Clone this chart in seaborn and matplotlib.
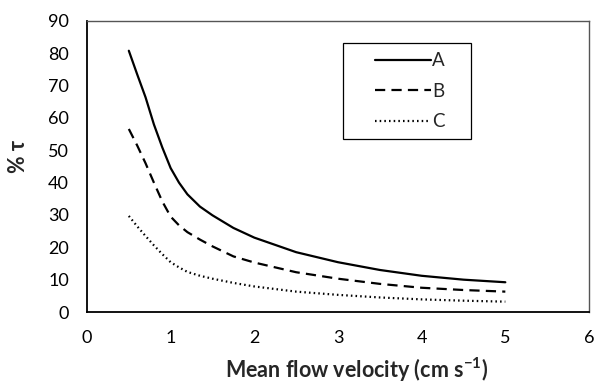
import matplotlib
matplotlib.use("Agg")
import matplotlib.pyplot as plt
from matplotlib.patches import Rectangle
import seaborn as sns
import pandas as pd

# Mean flow velocity (cm s^-1) and % tau for the three cases
velocity = [0.5, 0.6, 0.7, 0.8, 0.9, 1.0, 1.1, 1.2, 1.35, 1.5, 1.75,
            2.0, 2.5, 3.0, 3.5, 4.0, 4.5, 5.0]
tau_a = [80.8, 73.5, 66.4, 58.0, 50.9, 44.5, 40.0, 36.4, 32.6, 29.9, 26.0,
         23.0, 18.5, 15.4, 13.0, 11.2, 10.0, 9.2]
tau_b = [56.6, 51.5, 46.0, 40.0, 34.2, 29.5, 26.8, 24.7, 22.4, 20.3, 17.2,
         15.3, 12.3, 10.3, 8.7, 7.5, 6.8, 6.3]
tau_c = [29.7, 26.5, 23.5, 20.6, 17.9, 15.4, 13.8, 12.4, 11.2, 10.3, 9.0,
         7.9, 6.3, 5.3, 4.5, 3.9, 3.5, 3.2]
series_names = ["A", "B", "C"]
x_ticks = [0, 1, 2, 3, 4, 5, 6]
y_ticks = [0, 10, 20, 30, 40, 50, 60, 70, 80, 90]

df = pd.concat([
    pd.DataFrame({"v": velocity, "tau": vals, "case": name})
    for name, vals in zip(series_names, [tau_a, tau_b, tau_c])
])

sns.set_style("white")
plt.rcParams["font.family"] = ["Lato", "DejaVu Sans"]

fig = plt.figure(figsize=(5.97, 3.85), dpi=100)
ax = fig.add_axes([0.1457, 0.1896, 0.8409, 0.7559])

sns.lineplot(
    data=df, x="v", y="tau", style="case", ax=ax,
    color="black", linewidth=1.6,
    dashes={"A": "", "B": (4.6, 2.8), "C": (0.7, 1.4)},
    legend=True,
)

ax.set_xlim(0, 6)
ax.set_ylim(0, 90)
ax.set_xticks(x_ticks)
ax.set_yticks(y_ticks)
ax.tick_params(axis="both", length=0, labelsize=13, colors="black")
ax.tick_params(axis="x", pad=13)
ax.tick_params(axis="y", pad=13)

ax.set_xlabel("Mean flow velocity (cm s$\\mathregular{^{-1}}$)", fontsize=15.5,
              fontweight="bold")
ax.xaxis.set_label_coords(0.536, -0.20)
ax.xaxis.label.set_va("center")
ax.set_ylabel("% τ", fontsize=15.5, fontweight="bold")
ax.yaxis.set_label_coords(-0.137, 0.536)
ax.yaxis.label.set_va("center")

for side in ["left", "bottom"]:
    ax.spines[side].set_color("black")
    ax.spines[side].set_linewidth(1.3)
for side in ["top", "right"]:
    ax.spines[side].set_color("#555555")
    ax.spines[side].set_linewidth(1.0)

# Legend box drawn separately so the entries can sit in its middle
ax.add_patch(Rectangle((0.51, 0.595), 0.255, 0.329, transform=ax.transAxes,
                       fill=False, edgecolor="black", linewidth=0.9,
                       zorder=5))
handles, labels = ax.get_legend_handles_labels()
ax.legend(
    handles, labels, loc="upper left", bbox_to_anchor=(0.573, 0.893),
    frameon=False, fontsize=13.5,
    handlelength=3.0, handletextpad=0.05, labelspacing=0.72,
    borderpad=0.0, borderaxespad=0.0,
)

fig.savefig("out.png", dpi=100)
